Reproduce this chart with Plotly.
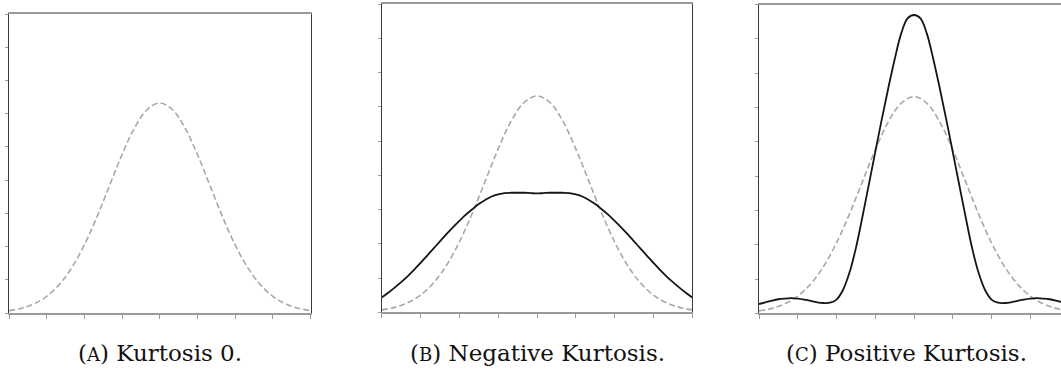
import plotly.graph_objects as go

# Reference normal curve (kurtosis 0), drawn dashed in every panel
x_normal = [-3.0, -2.75, -2.5, -2.25, -2.0, -1.75, -1.5, -1.25, -1.0, -0.75, -0.5, -0.25,
            0.0, 0.25, 0.5, 0.75, 1.0, 1.25, 1.5, 1.75, 2.0, 2.25, 2.5, 2.75, 3.0]
normal_ref = [0.007, 0.0144, 0.0278, 0.0503, 0.0855, 0.1367, 0.2052, 0.2893, 0.3833, 0.477, 0.5578, 0.6125,
              0.632, 0.6125, 0.5578, 0.477, 0.3833, 0.2893, 0.2052, 0.1367, 0.0855, 0.0503, 0.0278, 0.0144, 0.007]

# Finer sample positions for the two solid curves
x_fine = [-3.0, -2.875, -2.75, -2.625, -2.5, -2.375, -2.25, -2.125, -2.0, -1.875, -1.75, -1.625,
          -1.5, -1.375, -1.25, -1.125, -1.0, -0.875, -0.75, -0.625, -0.5, -0.375, -0.25, -0.125,
          0.0, 0.125, 0.25, 0.375, 0.5, 0.625, 0.75, 0.875, 1.0, 1.125, 1.25, 1.375, 1.5,
          1.625, 1.75, 1.875, 2.0, 2.125, 2.25, 2.375, 2.5, 2.625, 2.75, 2.875, 3.0]

# Platykurtic curve (negative kurtosis)
negative_k = [0.043, 0.057, 0.072, 0.088, 0.105, 0.124, 0.144, 0.165, 0.186, 0.207, 0.228, 0.248,
              0.267, 0.285, 0.301, 0.316, 0.328, 0.338, 0.344, 0.348, 0.349, 0.349, 0.349, 0.348,
              0.347, 0.348, 0.349, 0.349, 0.349, 0.348, 0.344, 0.338, 0.328, 0.316, 0.301, 0.285, 0.267,
              0.248, 0.228, 0.207, 0.186, 0.165, 0.144, 0.124, 0.105, 0.088, 0.072, 0.057, 0.043]

# Leptokurtic curve (positive kurtosis)
positive_k = [0.027, 0.032, 0.037, 0.041, 0.043, 0.044, 0.043, 0.040, 0.036, 0.032, 0.030, 0.031,
              0.040, 0.068, 0.118, 0.19, 0.28, 0.375, 0.47, 0.565, 0.655, 0.74, 0.815, 0.86,
              0.87, 0.86, 0.815, 0.74, 0.655, 0.565, 0.47, 0.375, 0.28, 0.19, 0.118, 0.068, 0.040,
              0.031, 0.030, 0.032, 0.036, 0.040, 0.043, 0.044, 0.043, 0.041, 0.037, 0.032, 0.027]

SERIF = "DejaVu Serif"
captions = ["(<span style='font-size:18px'>A</span>) Kurtosis 0.",
            "(<span style='font-size:18px'>B</span>) Negative Kurtosis.",
            "(<span style='font-size:18px'>C</span>) Positive Kurtosis."]

x_ticks = [-3.0, -2.25, -1.5, -0.75, 0.0, 0.75, 1.5, 2.25, 3.0]

W, H = 1061, 369
# pixel frames of the three panels: left, right, top, bottom
frames = [(9, 310.5, 14, 313), (381.7, 692.3, 4, 312.3), (759, W, 4.7, 313.3)]
x_ranges = [[-3, 3], [-3, 3], [-3, -3 + (W - 759) / 51.67]]
centers = [160, 537, 906]

DARK = "#3a3a3a"
GRAY = "#9a9a9a"
BLACK = "#151515"
DASH_GRAY = "#a8a8a8"

fig = go.Figure()

for i, (l, r, t, b) in enumerate(frames):
    n = "" if i == 0 else str(i + 1)
    xa, ya = "x" + n, "y" + n
    fig.add_trace(go.Scatter(x=x_normal, y=normal_ref, mode="lines", line_shape="spline",
                             line=dict(color=DASH_GRAY, width=1.6, dash="6px,3px"),
                             xaxis=xa, yaxis=ya, showlegend=False, hoverinfo="skip"))
    if i == 1:
        fig.add_trace(go.Scatter(x=x_fine, y=negative_k, mode="lines", line_shape="spline",
                                 line=dict(color=BLACK, width=1.8),
                                 xaxis=xa, yaxis=ya, showlegend=False, hoverinfo="skip"))
    if i == 2:
        fig.add_trace(go.Scatter(x=x_fine, y=positive_k, mode="lines", line_shape="spline",
                                 line=dict(color=BLACK, width=1.8),
                                 xaxis=xa, yaxis=ya, showlegend=False, hoverinfo="skip"))

    fig.update_layout({
        "xaxis" + n: dict(domain=[l / W, r / W], range=x_ranges[i], anchor=ya,
                          tickvals=x_ticks, ticks="outside", ticklen=4, tickwidth=1,
                          tickcolor=GRAY, showticklabels=False, showgrid=False, zeroline=False,
                          showline=True, linecolor=GRAY, linewidth=1.6, mirror=True),
        "yaxis" + n: dict(domain=[1 - b / H, 1 - t / H], range=[0, 0.9], anchor=xa,
                          dtick=0.1, tick0=0, ticks="outside", ticklen=3, tickwidth=1,
                          tickcolor=GRAY, showticklabels=False, showgrid=False, zeroline=False,
                          showline=True, linecolor=DARK, linewidth=1.3, mirror=(i != 2)),
    })
    fig.add_annotation(x=centers[i] / W, y=1 - 353 / H, xref="paper", yref="paper",
                       text=captions[i], showarrow=False, xanchor="center", yanchor="middle",
                       font=dict(family=SERIF, size=23, color="#111111"))

fig.update_layout(width=W, height=H, margin=dict(l=0, r=0, t=0, b=0),
                  paper_bgcolor="white", plot_bgcolor="white")

fig.write_html("out.html")
